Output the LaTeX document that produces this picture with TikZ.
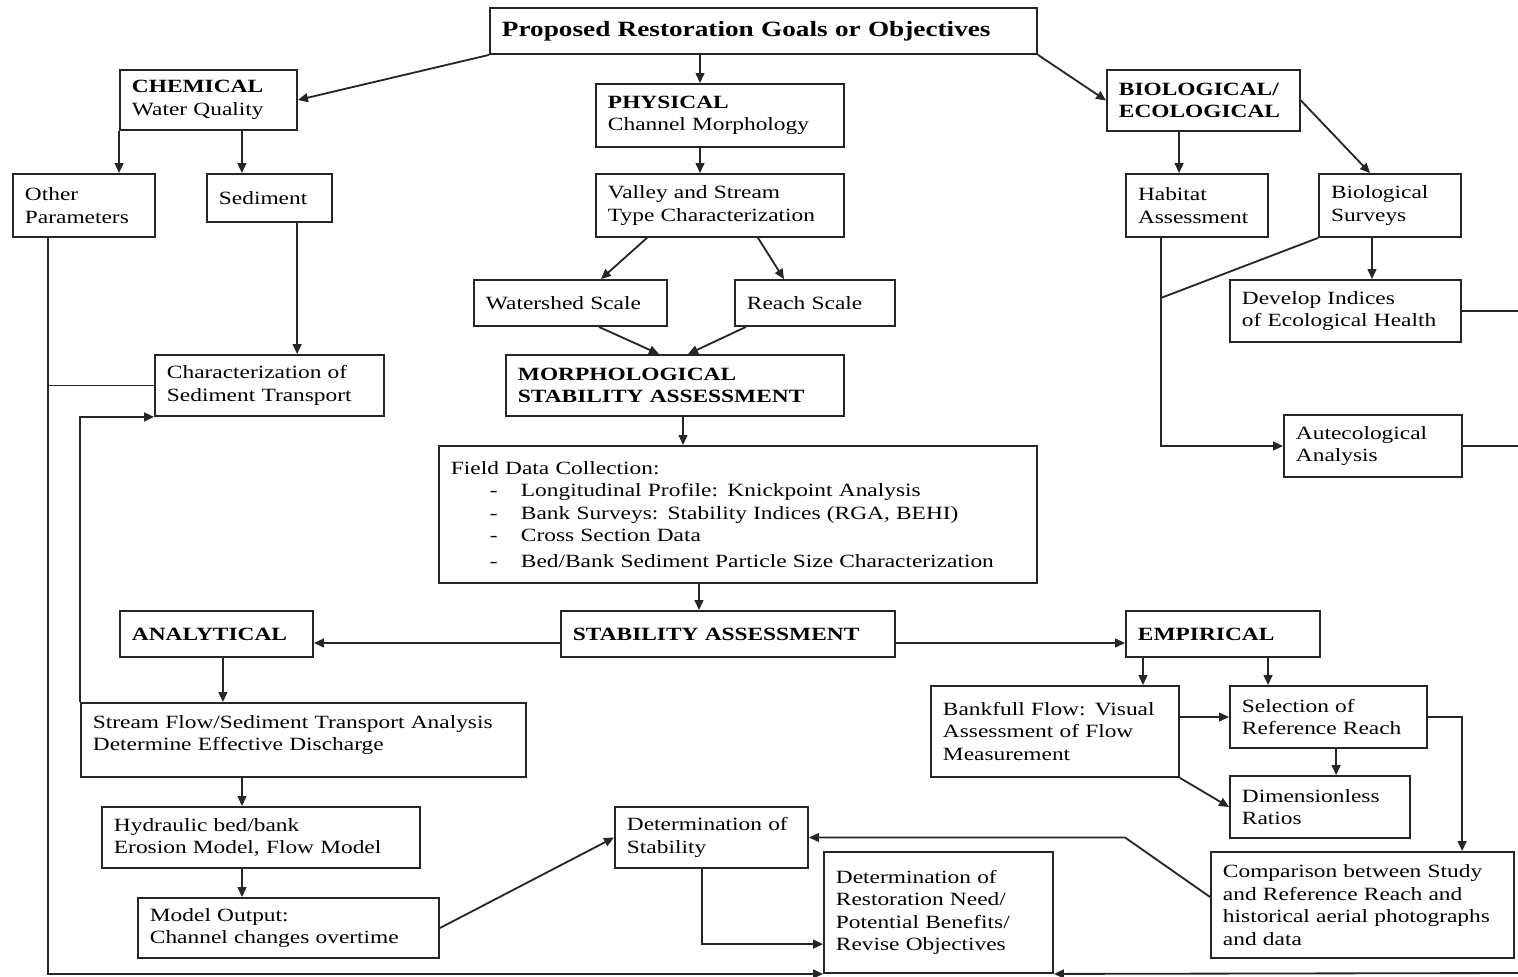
\documentclass[tikz,border=0pt]{standalone}
\usepackage{fontspec}
\setmainfont{Liberation Serif}[FakeStretch=1.25]
\usetikzlibrary{arrows.meta}
\newcommand{\fielditem}[1]{\hspace*{0.975cm}\makebox[0.775cm][l]{-}#1}

\begin{document}
\begin{tikzpicture}[
        x=0.025cm, y=-0.025cm,
        box/.style={draw=black!85, line width=1.3pt, fill=white, align=left, inner xsep=0.3cm, inner ysep=0pt, font=\fontsize{13.3}{16}\selectfont},
        link/.style={draw=black!85, line width=1.3pt},
        flow/.style={link, -{Triangle[length=0.25cm, width=0.22cm]}}
    ]
        \useasboundingbox (0,0) rectangle (1518,977);

        \node[box, text width=13.075cm, minimum height=1.15cm, font=\fontsize{15.5}{18}\selectfont\bfseries] (goal) at (763.5,31) {Proposed Restoration Goals or Objectives};
        \node[box, text width=3.825cm, minimum height=1.5cm] (chem) at (208.5,100) {\textbf{CHEMICAL}\\Water Quality};
        \node[box, text width=5.6cm, minimum height=1.575cm] (phys) at (720,115.5) {\textbf{PHYSICAL}\\Channel Morphology};
        \node[box, text width=4.225cm, minimum height=1.525cm] (bio) at (1203.5,100.5) {\textbf{BIOLOGICAL/}\\\textbf{ECOLOGICAL}};
        \node[box, text width=2.95cm, minimum height=1.575cm] (other) at (84,205.5) {Other\\Parameters};
        \node[box, text width=2.525cm, minimum height=1.2cm] (sed) at (269.5,198) {Sediment};
        \node[box, text width=5.6cm, minimum height=1.575cm] (valley) at (720,205.5) {Valley and Stream\\Type Characterization};
        \node[box, text width=2.95cm, minimum height=1.575cm] (habitat) at (1197,205.5) {Habitat\\Assessment};
        \node[box, text width=2.95cm, minimum height=1.575cm] (biosurv) at (1390,205.5) {Biological\\Surveys};
        \node[box, text width=4.225cm, minimum height=1.15cm] (water) at (570.5,303) {Watershed Scale};
        \node[box, text width=3.4cm, minimum height=1.15cm] (reach) at (815,303) {Reach Scale};
        \node[box, text width=5.175cm, minimum height=1.55cm] (devind) at (1345.5,311) {Develop Indices\\of Ecological Health};
        \node[box, text width=5.125cm, minimum height=1.525cm] (charsed) at (269.5,385.5) {Characterization of\\Sediment Transport};
        \node[box, text width=7.85cm, minimum height=1.525cm] (morph) at (675,385.5) {\textbf{MORPHOLOGICAL}\\\textbf{STABILITY ASSESSMENT}};
        \node[box, text width=3.85cm, minimum height=1.55cm] (autec) at (1373,446) {Autecological\\Analysis};
        \node[box, text width=14.35cm, minimum height=3.425cm] (field) at (738,514.5) {Field Data Collection:\\
            \fielditem{Longitudinal Profile: Knickpoint Analysis}\\
            \fielditem{Bank Surveys: Stability Indices (RGA, BEHI)}\\
            \fielditem{Cross Section Data}\\[2pt]
            \fielditem{Bed/Bank Sediment Particle Size Characterization}};
        \node[box, text width=4.225cm, minimum height=1.15cm] (analyt) at (216.5,634) {\textbf{ANALYTICAL}};
        \node[box, text width=7.75cm, minimum height=1.15cm] (stab) at (728,634) {\textbf{STABILITY ASSESSMENT}};
        \node[box, text width=4.25cm, minimum height=1.15cm] (empir) at (1223,634) {\textbf{EMPIRICAL}};
        \node[box, text width=10.525cm, minimum height=1.85cm] (stream) at (303.5,740) {Stream Flow/Sediment Transport Analysis\\Determine Effective Discharge\\[-6pt]\mbox{}};
        \node[box, text width=5.6cm, minimum height=2.275cm] (bankfull) at (1055,731.5) {Bankfull Flow: Visual\\Assessment of Flow\\Measurement};
        \node[box, text width=4.325cm, minimum height=1.55cm] (selref) at (1328.5,717) {Selection of\\Reference Reach};
        \node[box, text width=3.9cm, minimum height=1.55cm] (dimless) at (1320,807) {Dimensionless\\Ratios};
        \node[box, text width=7.35cm, minimum height=1.525cm] (hydr) at (261,837.5) {Hydraulic bed/bank\\Erosion Model, Flow Model};
        \node[box, text width=4.225cm, minimum height=1.525cm] (detstab) at (711.5,837.5) {Determination of\\Stability};
        \node[box, text width=5.125cm, minimum height=3.025cm] (detrest) at (938.5,912.5) {Determination of\\Restoration Need/\\Potential Benefits/\\Revise Objectives};
        \node[box, text width=6.975cm, minimum height=2.65cm] (compar) at (1362.5,905) {Comparison between Study\\and Reference Reach and\\historical aerial photographs\\and data};
        \node[box, text width=6.925cm, minimum height=1.5cm] (modelout) at (288.5,928) {Model Output:\\Channel changes overtime};

        \coordinate (rim) at (1518,973);
        \coordinate (otherdrop) at ([xshift=-0.9cm]other.south);
        \coordinate (habdrop) at ([xshift=-0.9cm]habitat.south);
        \coordinate (habjoin) at ([yshift=-1.5cm]habdrop);
        \coordinate (cbend) at ([xshift=-2.125cm]compar.west |- detstab.east);

        \draw[flow] (goal.south west) -- (chem.east);
        \draw[flow] ([xshift=-0.5cm]phys.north |- goal.south) -- ([xshift=-0.5cm]phys.north);
        \draw[flow] (goal.south east) -- (bio.west);
        \draw[flow] (chem.south west) -- (chem.south west |- other.north);
        \draw[flow] ([xshift=-0.69cm]sed.north |- chem.south) -- ([xshift=-0.69cm]sed.north);
        \draw[flow] ([xshift=-0.5cm]phys.south) -- ([xshift=-0.5cm]valley.north);
        \draw[flow] ([xshift=-1.825cm]valley.south) -- ([xshift=0.76cm]water.north);
        \draw[flow] ([xshift=0.95cm]valley.south) -- ([xshift=-0.775cm]reach.north);
        \draw[flow] ([xshift=0.71cm]water.south) -- ([xshift=-0.4cm]morph.north);
        \draw[flow] ([xshift=-1.725cm]reach.south) -- ([xshift=0.325cm]morph.north);
        \draw[flow] ([xshift=-0.61cm]bio.south) -- ([xshift=-0.61cm]bio.south |- habitat.north);
        \draw[flow] (bio.east) -- ([xshift=-0.5cm]biosurv.north);
        \draw[flow] ([xshift=-0.45cm]biosurv.south) -- ([xshift=-0.45cm]biosurv.south |- devind.north);
        \draw[flow] (habdrop) |- (autec.west);
        \draw[link] (biosurv.south west) -- (habjoin);
        \draw[link] (devind.east) -- (devind.east -| rim);
        \draw[link] (autec.east) -- (autec.east -| rim);

        \draw[flow] (otherdrop) |- (detrest.south west);
        \draw[link] (otherdrop |- charsed.west) -- (charsed.west);
        \draw[flow] ([xshift=0.69cm]sed.south) -- ([xshift=0.69cm]charsed.north);
        \draw[flow] (stream.north west) |- (charsed.south west);
        \draw[flow] ([xshift=0.2cm]morph.south) -- ([xshift=0.2cm]morph.south |- field.north);
        \draw[flow] ([xshift=-0.975cm]field.south) -- ([xshift=-0.975cm]field.south |- stab.north);
        \draw[flow] ([yshift=-0.225cm]stab.west) -- ([yshift=-0.225cm]analyt.east);
        \draw[flow] ([yshift=-0.225cm]stab.east) -- ([yshift=-0.225cm]empir.west);
        \draw[flow] ([xshift=0.16cm]analyt.south) -- ([xshift=0.16cm]analyt.south |- stream.north);
        \draw[flow] ([xshift=-0.475cm]hydr.north |- stream.south) -- ([xshift=-0.475cm]hydr.north);
        \draw[flow] ([xshift=-0.475cm]hydr.south) -- ([xshift=-0.475cm]hydr.south |- modelout.north);
        \draw[flow] (modelout.east) -- (detstab.west);
        \draw[flow] ([xshift=-0.24cm]detstab.south) |- ([yshift=-0.79cm]detrest.west);

        \draw[flow] ([xshift=-2cm]empir.south) -- ([xshift=-2cm]empir.south |- bankfull.north);
        \draw[flow] ([xshift=1.125cm]empir.south) -- ([xshift=1.125cm]empir.south |- selref.north);
        \draw[flow] (bankfull.east |- selref.west) -- (selref.west);
        \draw[flow] ([xshift=0.19cm]selref.south) -- ([xshift=0.19cm]selref.south |- dimless.north);
        \draw[flow] (bankfull.south east) -- (dimless.west);
        \draw[flow] (selref.east) -| ([xshift=2.49cm]compar.north);
        \draw[flow] ([yshift=0.2cm]compar.west) -- (cbend) -- (detstab.east);
        \draw[flow] (rim) -- (detrest.south east);
    \end{tikzpicture}
\end{document}
